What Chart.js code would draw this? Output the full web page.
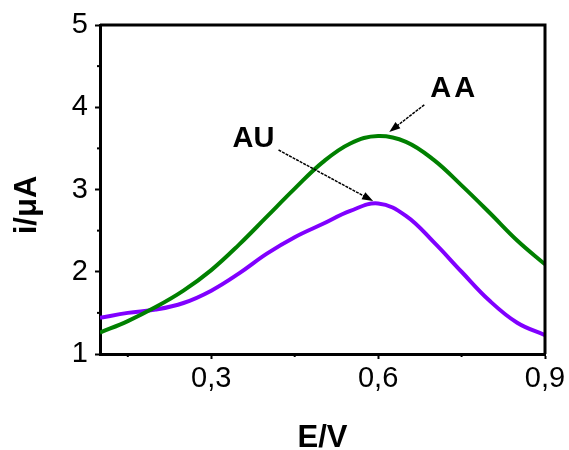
<!DOCTYPE html>
<html>
<head>
<meta charset="utf-8">
<script src="https://cdn.jsdelivr.net/npm/chart.js@4/dist/chart.umd.min.js"></script>
<style>
  html, body { margin: 0; padding: 0; background: #fff; }
  #wrap { width: 569px; height: 450px; }
</style>
</head>
<body>
<div id="wrap"><canvas id="chart" width="569" height="450"></canvas></div>
<script>
// E/V values
const potential = [0.10, 0.15, 0.20, 0.25, 0.30, 0.35, 0.40, 0.45, 0.50, 0.55, 0.60, 0.65, 0.70, 0.75, 0.80, 0.85, 0.90];
const aaCurrent = [1.26, 1.40, 1.57, 1.77, 2.02, 2.33, 2.67, 3.01, 3.33, 3.56, 3.65, 3.58, 3.36, 3.05, 2.72, 2.38, 2.09];
const auCurrent = [1.44, 1.50, 1.54, 1.62, 1.77, 1.98, 2.22, 2.42, 2.58, 2.74, 2.83, 2.68, 2.36, 2.00, 1.65, 1.38, 1.23];

const xMajorTicks = [0.3, 0.6, 0.9];
const xMinorTicks = [0.15, 0.45, 0.75];
const yMinorTicks = [1.5, 2.5, 3.5, 4.5];

const FONT = "'Liberation Sans', Arial, sans-serif";

const toPoints = (ys) => potential.map((x, i) => ({ x: x, y: ys[i] }));

// box on top/right, minor ticks, axis titles and the two arrow labels
const decorations = {
  id: 'decorations',
  afterDraw(chart) {
    const ctx = chart.ctx;
    const area = chart.chartArea;
    const xs = chart.scales.x;
    const ys = chart.scales.y;
    ctx.save();

    ctx.strokeStyle = '#000';
    ctx.lineWidth = 3;
    ctx.beginPath();
    ctx.moveTo(area.left, area.top);
    ctx.lineTo(area.right, area.top);
    ctx.lineTo(area.right, area.bottom);
    ctx.stroke();

    ctx.lineWidth = 2;
    xMinorTicks.forEach(v => {
      const px = xs.getPixelForValue(v);
      ctx.beginPath();
      ctx.moveTo(px, area.bottom);
      ctx.lineTo(px, area.bottom + 3);
      ctx.stroke();
    });
    yMinorTicks.forEach(v => {
      const py = ys.getPixelForValue(v);
      ctx.beginPath();
      ctx.moveTo(area.left, py);
      ctx.lineTo(area.left - 3, py);
      ctx.stroke();
    });

    ctx.fillStyle = '#000';
    ctx.font = 'bold 31px ' + FONT;
    ctx.textAlign = 'center';
    ctx.textBaseline = 'alphabetic';
    ctx.fillText('E/V', (area.left + area.right) / 2, 447);

    ctx.save();
    ctx.translate(36, 205);
    ctx.rotate(-Math.PI / 2);
    ctx.fillText('i/\u03bcA', 0, 0);
    ctx.restore();

    const arrow = (x0, y0, x1, y1) => {
      const ax = xs.getPixelForValue(x0), ay = ys.getPixelForValue(y0);
      const bx = xs.getPixelForValue(x1), by = ys.getPixelForValue(y1);
      const ang = Math.atan2(by - ay, bx - ax);
      ctx.strokeStyle = '#000';
      ctx.lineWidth = 1.5;
      ctx.setLineDash([3, 1]);
      ctx.beginPath();
      ctx.moveTo(ax, ay);
      ctx.lineTo(bx - 6 * Math.cos(ang), by - 6 * Math.sin(ang));
      ctx.stroke();
      ctx.setLineDash([]);
      ctx.beginPath();
      ctx.moveTo(bx, by);
      ctx.lineTo(bx - 11 * Math.cos(ang) + 4 * Math.sin(ang), by - 11 * Math.sin(ang) - 4 * Math.cos(ang));
      ctx.lineTo(bx - 11 * Math.cos(ang) - 4 * Math.sin(ang), by - 11 * Math.sin(ang) + 4 * Math.cos(ang));
      ctx.closePath();
      ctx.fillStyle = '#000';
      ctx.fill();
    };

    ctx.font = 'bold 29px ' + FONT;
    ctx.fillStyle = '#000';
    ctx.textBaseline = 'middle';
    ctx.letterSpacing = '3px';
    ctx.fillText('AA', xs.getPixelForValue(0.735) + 1, ys.getPixelForValue(4.22));
    ctx.letterSpacing = '0px';
    ctx.fillText('AU', xs.getPixelForValue(0.376), ys.getPixelForValue(3.62));
    arrow(0.683, 4.03, 0.620, 3.70);
    arrow(0.421, 3.48, 0.591, 2.86);

    ctx.restore();
  }
};

new Chart(document.getElementById('chart'), {
  type: 'line',
  data: {
    datasets: [
      {
        label: 'AA',
        data: toPoints(aaCurrent),
        borderColor: '#008000',
        borderWidth: 4,
        pointRadius: 0,
        tension: 0.4,
        fill: false
      },
      {
        label: 'AU',
        data: toPoints(auCurrent),
        borderColor: '#8000ff',
        borderWidth: 4,
        pointRadius: 0,
        tension: 0.4,
        fill: false
      }
    ]
  },
  options: {
    responsive: false,
    animation: false,
    layout: { padding: { top: 25, right: 24, left: 0, bottom: 0 } },
    plugins: {
      legend: { display: false },
      tooltip: { enabled: false }
    },
    scales: {
      x: {
        type: 'linear',
        min: 0.1,
        max: 0.9,
        afterBuildTicks: (scale) => { scale.ticks = xMajorTicks.map(v => ({ value: v })); },
        afterFit: (scale) => { scale.height = 96; },
        grid: { drawOnChartArea: false, drawTicks: true, tickLength: 5, tickColor: '#000', tickWidth: 2 },
        border: { display: true, color: '#000', width: 3 },
        ticks: {
          color: '#000',
          padding: 3,
          font: { family: FONT, size: 29 },
          maxRotation: 0,
          callback: (v) => Number(v).toFixed(1).replace('.', ',')
        }
      },
      y: {
        min: 1,
        max: 5,
        afterFit: (scale) => { scale.width = 100; },
        grid: { drawOnChartArea: false, drawTicks: true, tickLength: 5, tickColor: '#000', tickWidth: 2 },
        border: { display: true, color: '#000', width: 3 },
        ticks: {
          stepSize: 1,
          color: '#000',
          padding: 7,
          font: { family: FONT, size: 29 }
        }
      }
    }
  },
  plugins: [decorations]
});
</script>
</body>
</html>
